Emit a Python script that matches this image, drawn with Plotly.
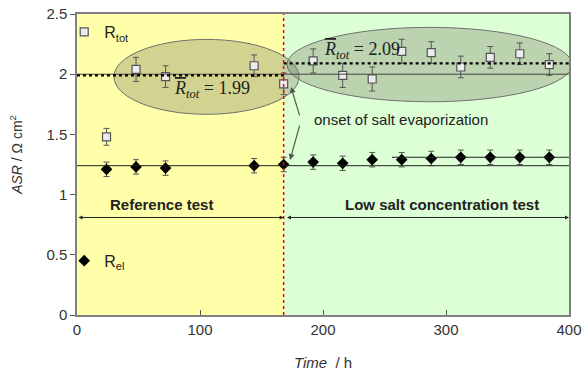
import plotly.graph_objects as go

# ---- data ----
time_h = [24, 48, 72, 144, 168, 192, 216, 240, 264, 288, 312, 336, 360, 384]
r_tot = [1.48, 2.04, 1.98, 2.07, 1.92, 2.11, 1.99, 1.96, 2.19, 2.18, 2.06, 2.14, 2.17, 2.08]
r_tot_err = [0.07, 0.10, 0.09, 0.09, 0.09, 0.10, 0.10, 0.10, 0.10, 0.09, 0.09, 0.09, 0.09, 0.09]
r_el = [1.21, 1.23, 1.22, 1.24, 1.25, 1.27, 1.26, 1.29, 1.29, 1.30, 1.31, 1.31, 1.31, 1.31]
r_el_err = [0.06, 0.06, 0.06, 0.06, 0.06, 0.06, 0.06, 0.06, 0.06, 0.06, 0.06, 0.06, 0.06, 0.06]

onset_h = 168
x_max = 400
mean_tot_ref = 1.99
mean_tot_low = 2.09
base_tot = 2.0
base_el = 1.24
late_el = 1.31
late_el_start = 256

x_ticks = [0, 100, 200, 300, 400]
y_ticks = [0, 0.5, 1, 1.5, 2, 2.5]

FONT = "Arial, Liberation Sans, sans-serif"
SERIF = "Times New Roman, Liberation Serif, serif"

fig = go.Figure()

fig.add_trace(go.Scatter(
    x=time_h, y=r_tot, mode="markers", name="R<sub>tot</sub>",
    marker=dict(symbol="square", size=8, color="#ececec", line=dict(color="#555555", width=1.2)),
    error_y=dict(type="data", array=r_tot_err, color="#555555", thickness=1, width=3),
    legend="legend",
))
fig.add_trace(go.Scatter(
    x=time_h, y=r_el, mode="markers", name="R<sub>el</sub>",
    marker=dict(symbol="diamond", size=9, color="black"),
    error_y=dict(type="data", array=r_el_err, color="#555555", thickness=1, width=3),
    legend="legend2",
))

shapes = [
    dict(type="rect", xref="x", yref="y", x0=0, x1=onset_h, y0=0, y1=2.5,
         fillcolor="#FFFFAA", line=dict(width=0), layer="below"),
    dict(type="rect", xref="x", yref="y", x0=onset_h, x1=x_max, y0=0, y1=2.5,
         fillcolor="#DDFFD5", line=dict(width=0), layer="below"),
    dict(type="circle", xref="x", yref="y", x0=30, x1=180.5, y0=1.667, y1=2.289,
         fillcolor="rgba(110,110,90,0.30)", line=dict(color="#707070", width=1), layer="below"),
    dict(type="circle", xref="x", yref="y", x0=170.7, x1=402.4, y0=1.771, y1=2.389,
         fillcolor="rgba(110,110,90,0.30)", line=dict(color="#707070", width=1), layer="below"),
    dict(type="line", xref="x", yref="y", x0=0, x1=x_max, y0=base_el, y1=base_el,
         line=dict(color="#222222", width=1)),
    dict(type="line", xref="x", yref="y", x0=late_el_start, x1=x_max, y0=late_el, y1=late_el,
         line=dict(color="#222222", width=1)),
    dict(type="line", xref="x", yref="y", x0=0, x1=x_max, y0=base_tot, y1=base_tot,
         line=dict(color="#444444", width=1)),
    dict(type="line", xref="x", yref="y", x0=0, x1=onset_h, y0=mean_tot_ref, y1=mean_tot_ref,
         line=dict(color="black", width=2.2, dash="dot")),
    dict(type="line", xref="x", yref="y", x0=onset_h, x1=x_max, y0=mean_tot_low, y1=mean_tot_low,
         line=dict(color="black", width=2.2, dash="dot")),
    dict(type="line", xref="x", yref="y", x0=onset_h, x1=onset_h, y0=0, y1=2.5,
         line=dict(color="#FF0000", width=1.5, dash="dot")),
]

annotations = [
    dict(x=77, y=1.87, xref="x", yref="y", xanchor="left", yanchor="middle", showarrow=False,
         text="<span style='text-decoration:overline'><i>R</i></span><sub><i>tot</i></sub> = 1.99",
         font=dict(family=SERIF, size=18, color="#222222")),
    dict(x=199, y=2.2, xref="x", yref="y", xanchor="left", yanchor="middle", showarrow=False,
         text="<span style='text-decoration:overline'><i>R</i></span><sub><i>tot</i></sub> = 2.09",
         font=dict(family=SERIF, size=18, color="#222222")),
    dict(x=191, y=1.62, xref="x", yref="y", xanchor="left", yanchor="middle", showarrow=False,
         text="onset of salt evaporization", font=dict(family=FONT, size=15, color="#222222")),
    dict(x=174, y=1.894, ax=181.3, ay=1.645, xref="x", yref="y", axref="x", ayref="y",
         text="", showarrow=True, arrowhead=2, arrowsize=1, arrowwidth=1.2, arrowcolor="#555555"),
    dict(x=173.2, y=1.287, ax=181.3, ay=1.586, xref="x", yref="y", axref="x", ayref="y",
         text="", showarrow=True, arrowhead=2, arrowsize=1, arrowwidth=1.2, arrowcolor="#555555"),
    dict(x=onset_h, y=0.81, ax=0, ay=0.81, xref="x", yref="y", axref="x", ayref="y",
         text="", showarrow=True, arrowhead=2, arrowside="end+start", arrowsize=0.8,
         arrowwidth=1, arrowcolor="#222222"),
    dict(x=x_max, y=0.81, ax=onset_h + 1.5, ay=0.81, xref="x", yref="y", axref="x", ayref="y",
         text="", showarrow=True, arrowhead=2, arrowside="end+start", arrowsize=0.8,
         arrowwidth=1, arrowcolor="#222222"),
    dict(x=69, y=0.92, xref="x", yref="y", xanchor="center", yanchor="middle", showarrow=False,
         text="<b>Reference test</b>", font=dict(family=FONT, size=15, color="#222222")),
    dict(x=297, y=0.92, xref="x", yref="y", xanchor="center", yanchor="middle", showarrow=False,
         text="<b>Low salt concentration test</b>", font=dict(family=FONT, size=15, color="#222222")),
    dict(x=-0.124, y=1.33, xref="paper", yref="y", xanchor="center", yanchor="middle",
         showarrow=False, textangle=-90,
         text="<i>ASR</i> / Ω cm<sup>2</sup>", font=dict(family=FONT, size=14, color="#333333")),
]

fig.update_layout(
    width=582, height=376,
    margin=dict(l=77, r=13, t=14, b=61),
    paper_bgcolor="white", plot_bgcolor="white",
    font=dict(family=FONT, size=15, color="#333333"),
    shapes=shapes, annotations=annotations,
    showlegend=True,
    legend=dict(x=-0.026, y=0.94, xanchor="left", yanchor="middle", bgcolor="rgba(0,0,0,0)",
                font=dict(family=FONT, size=16, color="#222222"), borderwidth=0),
    legend2=dict(x=-0.026, y=0.18, xanchor="left", yanchor="middle", bgcolor="rgba(0,0,0,0)",
                 font=dict(family=FONT, size=16, color="#222222"), borderwidth=0),
    xaxis=dict(range=[0, x_max], tickvals=x_ticks, ticks="inside", ticklen=5, tickcolor="#555555",
               showgrid=False, zeroline=False, showline=True, linecolor="#808080", linewidth=1.5,
               mirror=True, tickfont=dict(size=15, color="#333333"), automargin=False,
               title=dict(text="<i>Time</i>  / h", font=dict(size=15, color="#333333"), standoff=21)),
    yaxis=dict(range=[0, 2.5], tickvals=y_ticks, ticks="outside", ticklen=5, tickcolor="#555555",
               showgrid=False, zeroline=False, showline=True, linecolor="#808080", linewidth=1.5,
               mirror=True, tickfont=dict(size=15, color="#333333"), automargin=False),
)

fig.write_html("out.html")
